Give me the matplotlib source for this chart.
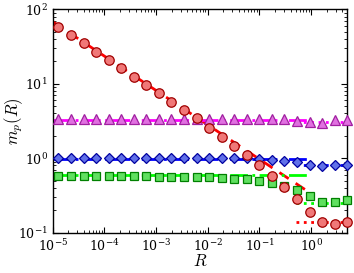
import matplotlib
matplotlib.use("Agg")
import matplotlib.pyplot as plt

plt.rcParams['mathtext.fontset'] = 'cm'
plt.rcParams['font.family'] = 'serif'
plt.rcParams['font.serif'] = ['DejaVu Serif']

# sampling grid of R
R = [1.285e-5, 2.25e-5, 3.94e-5, 6.89e-5, 1.206e-4, 2.11e-4, 3.693e-4, 6.462e-4,
     1.131e-3, 1.979e-3, 3.463e-3, 6.061e-3, 1.0606e-2, 1.856e-2, 3.248e-2, 5.684e-2,
     9.95e-2, 0.1741, 0.3046, 0.533, 0.933, 1.633, 2.857, 5.0]

circles = [58.5, 45.2, 34.9, 27.0, 20.9, 16.3, 12.5, 9.5, 7.45, 5.7, 4.4, 3.44,
           2.58, 1.95, 1.48, 1.11, 0.82, 0.585, 0.41, 0.284, 0.192, 0.138, 0.130, 0.141]
triangles = [3.35] * 19 + [3.18, 3.03, 2.93, 3.24, 3.30]
diamonds = [1.0] * 16 + [0.97, 0.95, 0.93, 0.88, 0.82, 0.78, 0.81, 0.82]
squares = [0.58, 0.58, 0.58, 0.575, 0.575, 0.575, 0.57, 0.57, 0.565, 0.565, 0.56, 0.56,
           0.555, 0.55, 0.53, 0.52, 0.50, 0.47, 0.425, 0.375, 0.31, 0.26, 0.26, 0.275]

# theory lines: small-R branch and large-R branch
red_small_x = [1e-5, 1.0]
red_small_y = [68.0, 0.335]
flat_small_x = [1e-5, 0.9]
mag_small = 3.25
blue_small = 0.98
green_small = 0.59
large_x = [0.5, 5.0]
red_large = 0.141
mag_large = 3.1
blue_large = 0.81
green_large = 0.249

fig = plt.figure(figsize=(3.54, 2.73), dpi=100)
ax = fig.add_axes([0.149, 0.1476, 0.832, 0.8183])

lw = 2.0
ax.plot(red_small_x, red_small_y, color='#ff0000', lw=lw, dashes=(4.0, 3.0), zorder=2)
ax.plot(flat_small_x, [mag_small] * 2, color='#ff00ff', lw=lw, ls='-.', zorder=2)
ax.plot(flat_small_x, [blue_small] * 2, color='#0000ff', lw=lw, ls='-.', zorder=2)
ax.plot(flat_small_x, [green_small] * 2, color='#00ff00', lw=lw, ls='-.', zorder=2)
ax.plot(large_x, [red_large] * 2, color='#ff0000', lw=lw, ls=':', zorder=2)
ax.plot(large_x, [mag_large] * 2, color='#ff00ff', lw=lw, ls=':', zorder=2)
ax.plot(large_x, [blue_large] * 2, color='#0000ff', lw=lw, ls=':', zorder=2)
ax.plot(large_x, [green_large] * 2, color='#00ff00', lw=lw, ls=':', zorder=2)

mk = dict(ls='none', mew=0.9, clip_on=False, zorder=3)
ax.plot(R, triangles, marker='^', ms=7, mfc='#e070e0', mec='#a020a0', **mk)
ax.plot(R, diamonds, marker='D', ms=5.5, mfc='#6070e8', mec='#0000a0', **mk)
ax.plot(R, squares, marker='s', ms=5.2, mfc='#60e060', mec='#008000', **mk)
ax.plot(R, circles, marker='o', ms=6.8, mfc='#f07878', mec='#a00000', **mk)

ax.set_xscale('log')
ax.set_yscale('log')
ax.set_xlim(1e-5, 5.0)
ax.set_ylim(0.1, 100)
ax.tick_params(which='both', direction='in', top=True, right=True, labelsize=9)
ax.tick_params(which='major', length=4, width=0.8)
ax.tick_params(which='minor', length=2, width=0.6)
ax.tick_params(axis='x', which='major', pad=4)
ax.set_xlabel(r'$R$', fontsize=12)
ax.xaxis.set_label_coords(0.5, -0.092)
ax.set_ylabel(r'$m_p(R)$', fontsize=12)
ax.yaxis.set_label_coords(-0.095, 0.5)
for s in ax.spines.values():
    s.set_linewidth(1.0)

fig.savefig('out.png', dpi=100)
